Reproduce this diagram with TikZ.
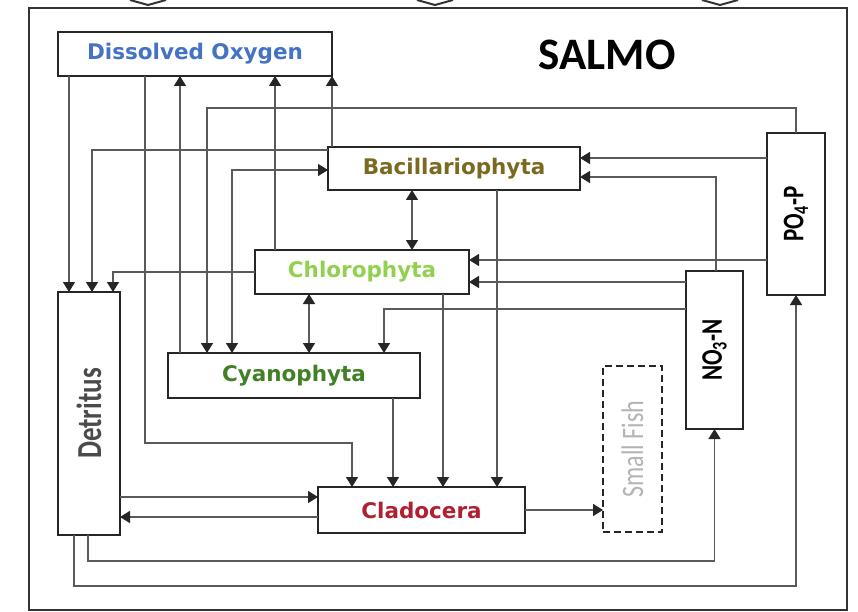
\documentclass[tikz,border=0pt]{standalone}
\usepackage{fontspec}
\newfontfamily\boxfont{DejaVu Sans}
\newfontfamily\calfont{Carlito}
\usetikzlibrary{arrows.meta}
\definecolor{doblue}{RGB}{68,114,196}
\definecolor{bacolive}{RGB}{122,106,32}
\definecolor{chlgreen}{RGB}{146,208,80}
\definecolor{cyagreen}{RGB}{66,128,38}
\definecolor{clared}{RGB}{176,32,48}
\definecolor{dettext}{RGB}{75,75,75}
\definecolor{fishtext}{RGB}{180,180,180}
\definecolor{linegray}{RGB}{90,90,90}
\newcommand{\uptext}[1]{\rotatebox{90}{\scalebox{1}[1.3]{#1}}}

\begin{document}
\begin{tikzpicture}[x=1pt,y=-1pt,
		box/.style={draw=black!85,line width=2.4pt,fill=white,inner sep=0pt,outer sep=0pt},
		fishbox/.style={box,dash pattern=on 7pt off 4pt},
		lbl/.style={font=\boxfont\bfseries\fontsize{21.5}{24}\selectfont},
		vlbl/.style={font=\calfont\bfseries\fontsize{23}{26}\selectfont},
		arr/.style={draw=linegray,line width=1.5pt,-{Triangle[length=10pt,width=12pt,color=black!85]}},
		dbl/.style={draw=linegray,line width=1.5pt,{Triangle[length=10pt,width=12pt,color=black!85]}-{Triangle[length=10pt,width=12pt,color=black!85]}}]
	\useasboundingbox (0,0) rectangle (858,612);
	% cut-off arrows above the frame
	\foreach \cx in {148,435,720}
		\draw[line width=2pt,black!80] (\cx-18,0) -- (\cx,5) -- (\cx+18,0);
	\draw[line width=2.6pt,black!80] (29,8) rectangle (847,610);

	\node[font=\calfont\bfseries\fontsize{45}{50}\selectfont] (title) at (607,55) {SALMO};
	\node[box,lbl,text=doblue,minimum width=274pt,minimum height=44pt] (do) at (195,54) {Dissolved Oxygen};
	\node[box,lbl,text=bacolive,minimum width=252pt,minimum height=43pt] (bac) at (454,168.5) {Bacillariophyta};
	\node[box,lbl,text=chlgreen,minimum width=214pt,minimum height=44pt] (chl) at (362,272) {Chlorophyta};
	\node[box,lbl,text=cyagreen,minimum width=252pt,minimum height=45pt] (cya) at (294,375.5) {Cyanophyta};
	\node[box,lbl,text=clared,minimum width=207pt,minimum height=46pt] (cla) at (421.5,510) {Cladocera};
	\node[box,text=dettext,font=\calfont\bfseries\fontsize{27}{32}\selectfont,
		minimum width=62pt,minimum height=243pt] (det) at (89,413.5) {\uptext{Detritus}};
	\node[fishbox,text=fishtext,font=\calfont\fontsize{24}{28}\selectfont,
		minimum width=59pt,minimum height=166pt] (fish) at (632.5,449) {\uptext{Small Fish}};
	\node[box,vlbl,minimum width=57pt,minimum height=158pt] (no3) at (714.5,350) {\uptext{NO\textsubscript{3}-N}};
	\node[box,vlbl,minimum width=58pt,minimum height=162pt] (po4) at (796,214) {\uptext{PO\textsubscript{4}-P}};

	% straight links
	\draw[arr] ([xshift=11pt]do.south west) -- ([xshift=11pt]det.north west);
	\draw[arr] ([xshift=12pt]cya.north west) -- ([xshift=122pt]do.south west);
	\draw[arr] ([xshift=20pt]chl.north west) -- ([xshift=217pt]do.south west);
	\draw[arr] ([xshift=4pt]bac.north west) -- ([xshift=4pt]bac.north west |- do.south);
	\draw[arr] ([yshift=-25pt]po4.north west) -- ([yshift=-11pt]bac.north east);
	\draw[arr] ([yshift=-127pt]po4.north west) -- ([yshift=-10pt]chl.north east);
	\draw[arr] ([yshift=-11pt]no3.north west) -- ([yshift=-32pt]chl.north east);
	\draw[arr] ([xshift=-27pt]cya.south east) -- ([xshift=75pt]cla.north west);
	\draw[arr] ([xshift=-26pt]chl.south east) -- ([xshift=125pt]cla.north west);
	\draw[arr] ([xshift=-83pt]bac.south east) -- ([xshift=179pt]cla.north west);
	\draw[arr] ([yshift=38pt]det.south east) -- ([yshift=-10pt]cla.north west);
	\draw[arr] ([yshift=16pt]cla.south west) -- ([yshift=18pt]det.south east);
	\draw[arr] (cla.east) -- (cla.east -| fish.west);
	\draw[dbl] ([xshift=-42pt]bac.south) -- ([xshift=50pt]chl.north);
	\draw[dbl] ([xshift=-53pt]chl.south) -- ([xshift=15pt]cya.north);

	% routed links
	\draw[dbl] ([yshift=-23pt]bac.north west) -| ([xshift=64pt]cya.north west);
	\draw[arr] ([yshift=-3pt]bac.north west) -| ([xshift=34pt]det.north west);
	\draw[arr] (chl.west) -| ([xshift=55pt]det.north west);
	\draw[arr] ([xshift=87pt]do.south west) |- ([xshift=34pt,yshift=44pt]cla.north west)
		-- ([xshift=34pt]cla.north west);
	\draw[arr] (po4.north) |- ([xshift=39pt,yshift=245pt]cya.north west)
		-- ([xshift=39pt]cya.north west);
	\draw[arr] ([xshift=1.5pt]no3.north) |- ([yshift=-30pt]bac.north east);
	\draw[arr] ([yshift=-38pt]no3.north west) -| ([xshift=216pt]cya.north west);
	\draw[arr] ([xshift=30pt]det.south west) |- ([yshift=-132pt]no3.south) -- (no3.south);
	\draw[arr] ([xshift=16pt]det.south west) |- ([yshift=-291pt]po4.south) -- (po4.south);
\end{tikzpicture}
\end{document}
